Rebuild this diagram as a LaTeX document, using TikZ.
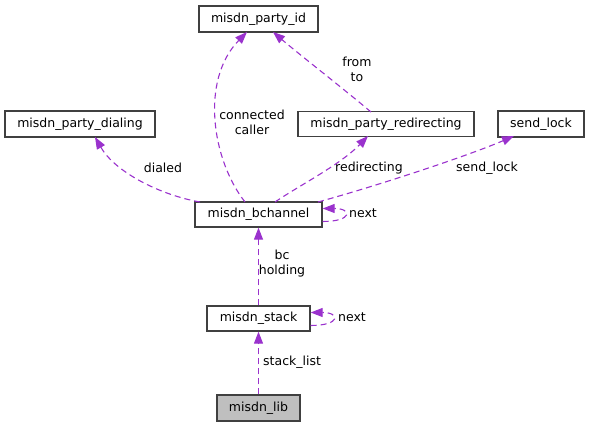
\documentclass[tikz,border=0pt]{standalone}
\usepackage{fontspec}
\setmainfont{DejaVu Sans}
\usetikzlibrary{arrows.meta}
\definecolor{dep}{HTML}{9A32CD}
\definecolor{bord}{HTML}{404040}
\definecolor{libfill}{HTML}{BFBFBF}
\begin{document}
\begin{tikzpicture}[x=1pt,y=-1pt,
  cls/.style={draw=bord,line width=1.3pt,rectangle,inner sep=0pt,font=\fontsize{12.5}{15}\selectfont},
  depline/.style={draw=dep,line width=1.1pt,dash pattern=on 6pt off 4pt,-{Triangle[length=12pt,width=9pt]}},
  lbl/.style={font=\fontsize{12.5}{15}\selectfont,align=center,inner sep=0pt}]
\useasboundingbox (0,0) rectangle (589,427);
\node[cls,minimum width=119pt,minimum height=26pt] (pid) at (258.5,19) {misdn\_party\_id};
\node[cls,minimum width=150pt,minimum height=26pt] (pdial) at (80,124) {misdn\_party\_dialing};
\node[cls,minimum width=176pt,minimum height=25pt] (predir) at (386,124) {misdn\_party\_redirecting};
\node[cls,minimum width=86pt,minimum height=26pt] (slock) at (541,124) {send\_lock};
\node[cls,minimum width=127pt,minimum height=25pt] (bch) at (258.5,214.5) {misdn\_bchannel};
\node[cls,minimum width=103pt,minimum height=25pt] (stack) at (258.5,318.5) {misdn\_stack};
\node[cls,fill=libfill,minimum width=83pt,minimum height=26pt] (lib) at (258.5,408) {misdn\_lib};

% lib -> stack
\draw[depline] (lib.north) -- (stack.south);
\node[lbl,anchor=west] (l1) at (263,362) {stack\_list};
% stack -> bch
\draw[depline] (stack.north) -- (bch.south);
\node[lbl] (l2) at (282,264) {bc\\holding};
% self loops
\draw[depline] ([yshift=-7pt]stack.east) .. controls +(30,0) and +(30,0) .. ([yshift=6pt]stack.east);
\node[lbl] (l3) at (352,317) {next};
\draw[depline] ([yshift=-7pt]bch.east) .. controls +(30,0) and +(30,0) .. ([yshift=6pt]bch.east);
\node[lbl] (l4) at (363,213) {next};
% bch -> pdial
\coordinate (b1) at (200,202);
\coordinate (t1) at (95,137);
\draw[depline] (b1) .. controls (160,195) and (115,172) .. (t1);
\node[lbl] (l5) at (163,168) {dialed};
% bch -> pid
\coordinate (b2) at (245,202);
\coordinate (t2) at (247,32);
\draw[depline] (b2) .. controls (212,160) and (200,80) .. (t2);
\node[lbl] (l6) at (252,122) {connected\\caller};
% predir -> pid
\coordinate (b3) at (371,112);
\coordinate (t3) at (273,32);
\draw[depline] (b3) .. controls (345,90) and (300,55) .. (t3);
\node[lbl] (l7) at (357,69) {from\\to};
% bch -> predir
\coordinate (b4) at (275,202);
\coordinate (t4) at (368,136);
\draw[depline] (b4) .. controls (300,185) and (340,165) .. (t4);
\node[lbl] (l8) at (369,168) {redirecting};
% bch -> slock
\coordinate (b5) at (318,202);
\coordinate (t5) at (514,136);
\draw[depline] (b5) .. controls (380,185) and (470,155) .. (t5);
\node[lbl] (l9) at (487,168) {send\_lock};
\end{tikzpicture}
\end{document}
